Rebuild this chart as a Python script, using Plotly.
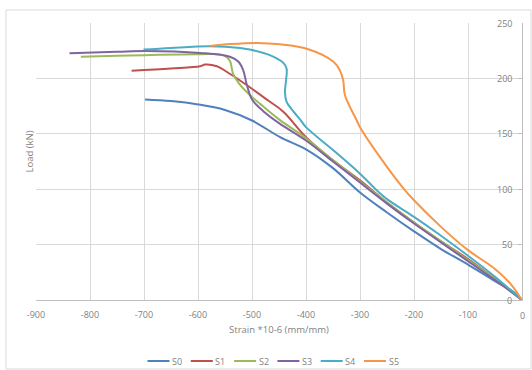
import plotly.graph_objects as go

names = ["S0", "S1", "S2", "S3", "S4", "S5"]
colors = ["#4F81BD", "#C0504D", "#9BBB59", "#8064A2", "#4BACC6", "#F79646"]

s0_x = [-698, -650, -600, -550, -500, -448, -400, -350, -300, -250, -200, -150, -100, -50, -15, 0]
s0_y = [181, 179.5, 176.5, 171.5, 162, 147, 136, 119, 97, 79, 62, 46, 32, 17, 7, 0]

s1_x = [-723, -650, -596, -587, -565, -547, -525, -504, -470, -442, -400, -350, -300, -250, -200, -150, -100, -50, 0]
s1_y = [207, 209, 211, 212.5, 211, 206, 199, 192, 180, 170, 147, 126, 108, 88, 70, 53, 37, 19, 0]

s2_x = [-817, -750, -698, -596, -553, -541, -535, -525, -504, -485, -450, -400, -350, -300, -250, -200, -150, -100, -50, 0]
s2_y = [219.5, 220.5, 221, 221.8, 221, 216, 204, 196, 185, 177, 163, 146, 126, 107, 88, 70, 53, 36, 19, 0]

s3_x = [-838, -750, -698, -596, -541, -525, -516, -510, -500, -478, -448, -400, -350, -300, -250, -200, -150, -100, -50, 0]
s3_y = [222.7, 224, 224.8, 223, 219.5, 215, 207, 195, 181, 170, 159, 144, 125, 106, 87, 69, 52, 35, 18, 0]

s4_x = [-701, -650, -578, -522, -504, -467, -442, -436, -437, -439, -436, -423, -411, -400, -349, -300, -269, -250, -200, -150, -100, -50, 0]
s4_y = [226, 227.5, 229, 227.5, 226, 221, 214, 209, 198, 188, 179, 170, 163, 156, 135, 114, 99, 91, 75, 58, 40, 21, 0]

s5_x = [-578, -540, -491, -448, -400, -349, -337, -331, -328, -306, -300, -263, -220, -200, -150, -100, -50, -22, 0]
s5_y = [229.3, 231, 232, 230.8, 227, 215, 207, 198, 185, 162, 156, 129, 101, 90, 66, 45, 28, 15, 0]

xs = [s0_x, s1_x, s2_x, s3_x, s4_x, s5_x]
ys = [s0_y, s1_y, s2_y, s3_y, s4_y, s5_y]

x_ticks = list(range(-900, 1, 100))
y_ticks = list(range(0, 251, 50))

W, H = 532, 370
ML, MR, MT, MB = 36, 10, 23, 70
PW, PH = W - ML - MR, H - MT - MB


def px(xp):
    return (xp - ML) / PW


def py(yp):
    return (H - MB - yp) / PH


fig = go.Figure()
for n, c, x, y in zip(names, colors, xs, ys):
    fig.add_trace(go.Scatter(x=x, y=y, name=n, mode="lines", showlegend=False,
                             line=dict(color=c, width=2), line_shape="spline"))

gray = "#7f7f7f"
fnt = "Open Sans"
tick_font = dict(family=fnt, size=9, color=gray)

shapes = [dict(type="rect", xref="paper", yref="paper",
               x0=px(6), x1=px(531), y0=py(369), y1=py(10),
               line=dict(color="#d9d9d9", width=1), fillcolor="rgba(0,0,0,0)",
               layer="below")]
annotations = []

# y tick labels (inside, left of right axis)
for v in y_ticks:
    annotations.append(dict(x=0, y=v, xref="x", yref="y", text=str(v), showarrow=False,
                            xanchor="right", yanchor="middle", xshift=-8,
                            font=tick_font))
# x tick label for 0 (edge)
annotations.append(dict(x=0, y=0, xref="x", yref="y", text="0", showarrow=False,
                        xanchor="center", yanchor="top", yshift=-7, font=tick_font))

# y-axis title on the left
annotations.append(dict(text="Load (kN)", xref="paper", yref="paper",
                        x=px(20), y=py(152), textangle=-90, showarrow=False,
                        font=dict(family=fnt, size=9.5, color=gray)))

# manual legend
leg_y = py(361)
for i, (n, c) in enumerate(zip(names, colors)):
    x0 = 147.5 + i * 43.3
    shapes.append(dict(type="line", xref="paper", yref="paper",
                       x0=px(x0), x1=px(x0 + 22), y0=leg_y, y1=leg_y,
                       line=dict(color=c, width=2)))
    annotations.append(dict(text=n, xref="paper", yref="paper", x=px(x0 + 22.5), y=leg_y,
                            xanchor="left", yanchor="middle", showarrow=False,
                            font=dict(family=fnt, size=9, color=gray)))

fig.update_layout(
    width=W, height=H,
    margin=dict(l=ML, r=MR, t=MT, b=MB),
    paper_bgcolor="white", plot_bgcolor="white",
    showlegend=False,
    xaxis=dict(range=[-900, 0], tickvals=x_ticks[:-1], ticktext=[str(v) for v in x_ticks[:-1]],
               showgrid=True, gridcolor="#d9d9d9", gridwidth=1,
               showline=True, linecolor="#bfbfbf", linewidth=1,
               zeroline=False, tickfont=tick_font, ticks="", ticklabelstandoff=6,
               title=dict(text="Strain *10-6 (mm/mm)",
                          font=dict(family=fnt, size=9.5, color=gray),
                          standoff=6)),
    yaxis=dict(range=[0, 250], tickvals=y_ticks, side="right", showticklabels=False,
               showgrid=True, gridcolor="#d9d9d9", gridwidth=1,
               showline=True, linecolor="#bfbfbf", linewidth=1,
               zeroline=False, ticks="inside", ticklen=4, tickcolor="#bfbfbf"),
    shapes=shapes,
    annotations=annotations,
)

fig.write_html("out.html")
